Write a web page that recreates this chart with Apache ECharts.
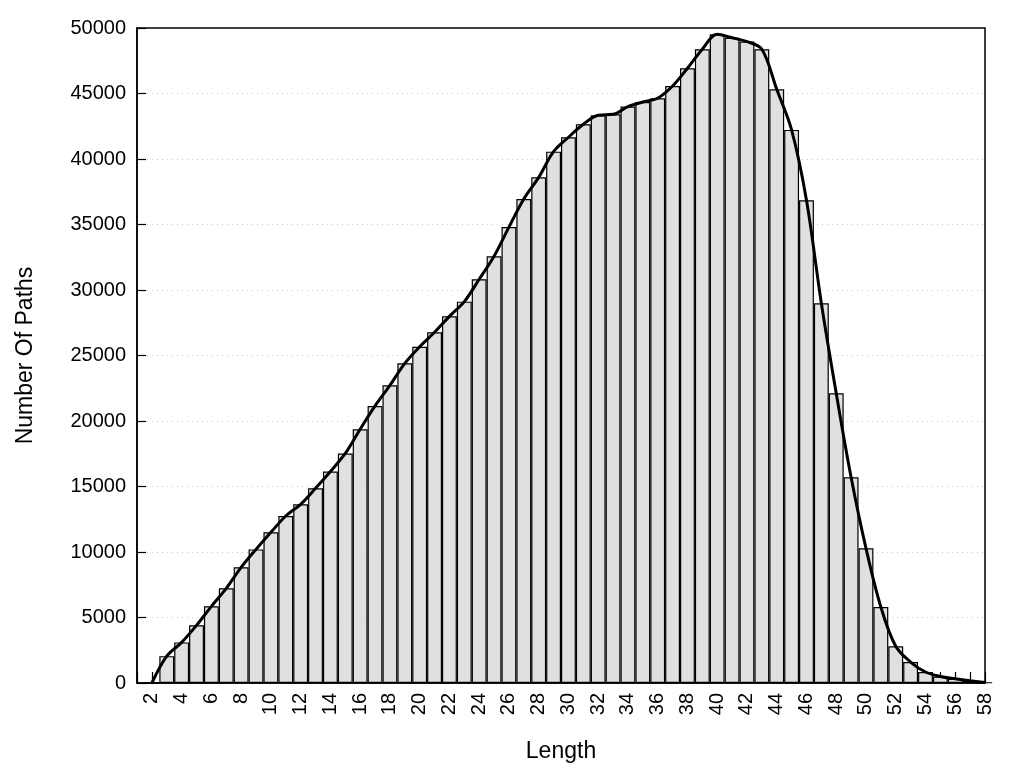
<!DOCTYPE html>
<html>
<head>
<meta charset="utf-8">
<script src="https://cdn.jsdelivr.net/npm/echarts@6/dist/echarts.min.js"></script>
<style>
html,body{margin:0;padding:0;background:#fff;}
#chart{width:1024px;height:768px;}
</style>
</head>
<body>
<div id="chart"></div>
<script>
const categories = ['1','2','3','4','5','6','7','8','9','10','11','12','13','14','15','16','17','18','19','20',
  '21','22','23','24','25','26','27','28','29','30','31','32','33','34','35','36','37','38','39','40',
  '41','42','43','44','45','46','47','48','49','50','51','52','53','54','55','56','57','58'];
const pathCounts = [null, 0, 2050, 3100, 4400, 5850, 7230, 8830, 10200, 11500, 12750, 13640, 14860, 16150,
  17520, 19370, 21150, 22720, 24400, 25670, 26770, 27990, 29110, 30820, 32570, 34800, 36950, 38600,
  40560, 41660, 42650, 43340, 43410, 44000, 44350, 44640, 45570, 46930, 48380, 49520, 49250, 48960,
  48380, 45320, 42220, 36850, 28990, 22120, 15700, 10280, 5800, 2800, 1600, 840, 500, 320, 170, 40];
const yTicks = {min: 0, max: 50000, step: 5000};

const font = 'Liberation Sans, Arial, sans-serif';
const chart = echarts.init(document.getElementById('chart'), null, {renderer: 'canvas'});
chart.setOption({
  animation: false,
  backgroundColor: '#fff',
  grid: {left: 137, right: 39, top: 28, bottom: 85, show: true, borderColor: '#000', borderWidth: 1.5, backgroundColor: 'transparent'},
  xAxis: {
    type: 'category',
    data: categories,
    boundaryGap: false,
    name: 'Length',
    nameLocation: 'middle',
    nameGap: 57,
    nameTextStyle: {fontFamily: font, fontSize: 23, color: '#000'},
    axisLine: {lineStyle: {color: '#000', width: 1.5}},
    axisTick: {show: true, inside: true, length: 11, interval: 0, lineStyle: {color: '#000', width: 1.2}},
    axisLabel: {
      rotate: 90, margin: 10, fontFamily: font, fontSize: 20, color: '#000',
      interval: function (idx, val) { return Number(val) % 2 === 0; }
    },
    splitLine: {show: false}
  },
  yAxis: {
    type: 'value',
    min: yTicks.min, max: yTicks.max, interval: yTicks.step,
    name: 'Number Of Paths',
    nameLocation: 'middle',
    nameGap: 100,
    nameTextStyle: {fontFamily: font, fontSize: 23, color: '#000'},
    axisLine: {show: true, lineStyle: {color: '#000', width: 1.5}},
    axisTick: {show: true, inside: true, length: 9, lineStyle: {color: '#000', width: 1.2}},
    axisLabel: {margin: 11, fontFamily: font, fontSize: 20, color: '#000', formatter: function (v) { return String(v); }},
    splitLine: {show: true, showMinLine: false, showMaxLine: false, lineStyle: {color: '#c8c8c8', type: [1, 4], width: 1}}
  },
  series: [
    {
      type: 'bar',
      data: pathCounts,
      barCategoryGap: '0%',
      barWidth: '100%',
      itemStyle: {color: '#e0e0e0', borderColor: '#000', borderWidth: 1.2},
      z: 2
    },
    {
      type: 'line',
      data: pathCounts,
      smooth: 0.35,
      symbol: 'none',
      lineStyle: {color: '#000', width: 3},
      z: 3
    }
  ]
});
</script>
</body>
</html>
